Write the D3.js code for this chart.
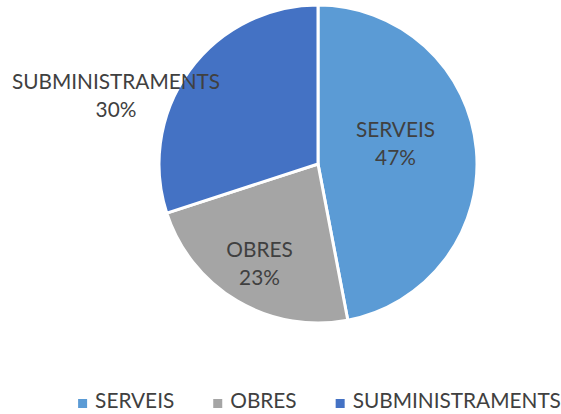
<!DOCTYPE html>
<html>
<head>
<meta charset="utf-8">
<script src="https://cdn.jsdelivr.net/npm/d3@7"></script>
<style>
  body { margin: 0; background: #fff; }
  text { font-family: Lato, "Open Sans", sans-serif; fill: #404040; }
</style>
</head>
<body>
<svg id="chart" width="561" height="414"></svg>
<script>
// chart data
const categories = ["SERVEIS", "OBRES", "SUBMINISTRAMENTS"];
const values = [47, 23, 30];
const colors = ["#5B9BD5", "#A5A5A5", "#4472C4"];

const svg = d3.select("#chart");
const cx = 318, cy = 164, radius = 159;
const fontSize = "20.8px";

const total = d3.sum(values);
const fmtPct = d3.format(".0%");

const pie = d3.pie().sort(null).value(d => d);
const arc = d3.arc().innerRadius(0).outerRadius(radius);
const arcs = pie(values);

const g = svg.append("g").attr("transform", `translate(${cx},${cy})`);

g.selectAll("path")
  .data(arcs)
  .join("path")
  .attr("d", arc)
  .attr("fill", (d, i) => colors[i])
  .attr("stroke", "#fff")
  .attr("stroke-width", 3)
  .attr("stroke-linejoin", "round");

// label block centres relative to pie centre (best-fit placement)
const labelOffsets = [[77.5, -21], [-58.5, 99.5], [-202, -69]];

const labels = g.selectAll("text.label")
  .data(arcs)
  .join("text")
  .attr("class", "label")
  .attr("text-anchor", "middle")
  .style("font-size", fontSize);

labels.append("tspan")
  .attr("x", (d, i) => labelOffsets[i][0])
  .attr("y", (d, i) => labelOffsets[i][1] - 6.5)
  .text((d, i) => categories[i]);

labels.append("tspan")
  .attr("x", (d, i) => labelOffsets[i][0])
  .attr("y", (d, i) => labelOffsets[i][1] + 21.5)
  .text(d => fmtPct(d.value / total));

// legend
const legend = svg.append("g").attr("class", "legend");
const items = legend.selectAll("g")
  .data(categories)
  .join("g");

items.append("rect")
  .attr("width", 9)
  .attr("height", 9)
  .attr("y", -9)
  .attr("fill", (d, i) => colors[i]);

items.append("text")
  .attr("x", 17)
  .attr("y", 0)
  .style("font-size", fontSize)
  .text(d => d);

const widths = [];
items.each(function () {
  widths.push(17 + d3.select(this).select("text").node().getComputedTextLength());
});
const gap = 39;
const legendWidth = d3.sum(widths) + gap * (widths.length - 1);
let xpos = 319.5 - legendWidth / 2;
items.attr("transform", (d, i) => {
  const x = xpos;
  xpos += widths[i] + gap;
  return `translate(${x},408)`;
});
</script>
</body>
</html>
